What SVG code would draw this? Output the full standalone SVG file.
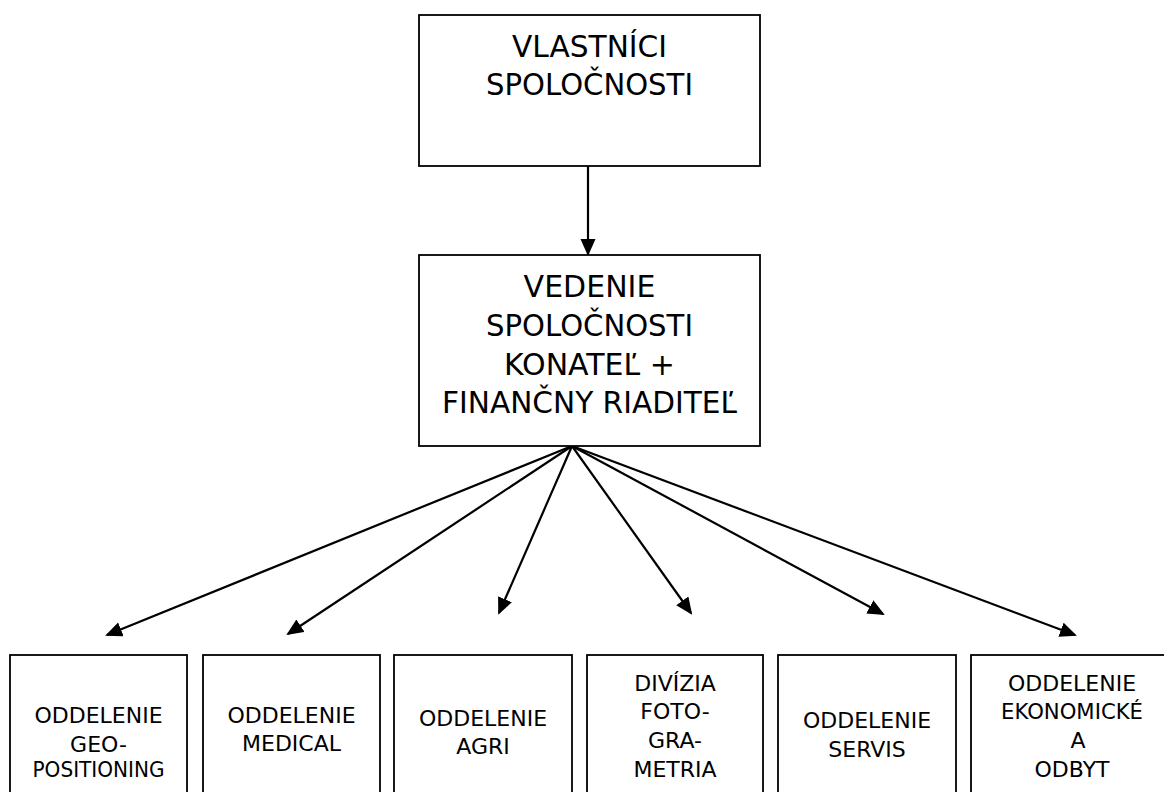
<svg xmlns="http://www.w3.org/2000/svg" width="1164" height="792" viewBox="0 0 1164 792">
<style>
.box{fill:#fff;stroke:#000;stroke-width:1.8}
.big{font-family:"DejaVu Sans",Verdana,sans-serif;font-size:30px;text-anchor:middle;fill:#000}
.sm{font-family:"DejaVu Sans",Verdana,sans-serif;font-size:22px;text-anchor:middle;fill:#000}
.conn{stroke:#000;stroke-width:2.2;fill:none;marker-end:url(#ah)}
</style>
<defs>
<marker id="ah" markerUnits="userSpaceOnUse" markerWidth="18" markerHeight="16" refX="15" refY="7.5" orient="auto">
<path d="M0,0 L17,7.5 L0,15 z" fill="#000"/>
</marker>
</defs>
<rect width="1164" height="792" fill="#fff"/>
<g id="connectors">
<line class="conn" x1="588" y1="166" x2="588" y2="254"/>
<line class="conn" x1="572" y1="446" x2="107" y2="635"/>
<line class="conn" x1="572" y1="446" x2="288" y2="634"/>
<line class="conn" x1="572" y1="446" x2="499" y2="613"/>
<line class="conn" x1="572" y1="446" x2="691" y2="613"/>
<line class="conn" x1="572" y1="446" x2="883" y2="614"/>
<line class="conn" x1="572" y1="446" x2="1075" y2="635"/>
</g>
<g id="n-vlastnici">
<rect class="box" x="419" y="15" width="341" height="151"/>
<text class="big" x="589.5" y="57" textLength="155" lengthAdjust="spacingAndGlyphs">VLASTNÍCI</text>
<text class="big" x="589.5" y="95" textLength="207" lengthAdjust="spacingAndGlyphs">SPOLOČNOSTI</text>
</g>
<g id="n-vedenie">
<rect class="box" x="419" y="255" width="341" height="191"/>
<text class="big" x="589.5" y="297">VEDENIE</text>
<text class="big" x="589.5" y="336" textLength="207" lengthAdjust="spacingAndGlyphs">SPOLOČNOSTI</text>
<text class="big" x="589.5" y="375">KONATEĽ +</text>
<text class="big" x="589.5" y="413" textLength="295" lengthAdjust="spacingAndGlyphs">FINANČNY RIADITEĽ</text>
</g>
<g id="n-geo">
<rect class="box" x="10" y="655" width="177" height="150"/>
<text class="sm" x="98.5" y="723">ODDELENIE</text>
<text class="sm" x="98.5" y="752">GEO-</text>
<text class="sm" x="98.5" y="777" textLength="132" lengthAdjust="spacingAndGlyphs">POSITIONING</text>
</g>
<g id="n-medical">
<rect class="box" x="203" y="655" width="177" height="150"/>
<text class="sm" x="291.5" y="723">ODDELENIE</text>
<text class="sm" x="291.5" y="751">MEDICAL</text>
</g>
<g id="n-agri">
<rect class="box" x="394" y="655" width="178" height="150"/>
<text class="sm" x="483" y="726">ODDELENIE</text>
<text class="sm" x="483" y="754">AGRI</text>
</g>
<g id="n-foto">
<rect class="box" x="587" y="655" width="176" height="150"/>
<text class="sm" x="675" y="691">DIVÍZIA</text>
<text class="sm" x="675" y="719">FOTO-</text>
<text class="sm" x="675" y="748">GRA-</text>
<text class="sm" x="675" y="777">METRIA</text>
</g>
<g id="n-servis">
<rect class="box" x="778" y="655" width="178" height="150"/>
<text class="sm" x="867" y="728">ODDELENIE</text>
<text class="sm" x="867" y="757">SERVIS</text>
</g>
<g id="n-ekonomicke">
<rect class="box" x="971" y="655" width="202" height="150"/>
<text class="sm" x="1072" y="691">ODDELENIE</text>
<text class="sm" x="1072" y="719" textLength="142" lengthAdjust="spacingAndGlyphs">EKONOMICKÉ</text>
<text class="sm" x="1078" y="748">A</text>
<text class="sm" x="1072" y="777">ODBYT</text>
</g>
</svg>
